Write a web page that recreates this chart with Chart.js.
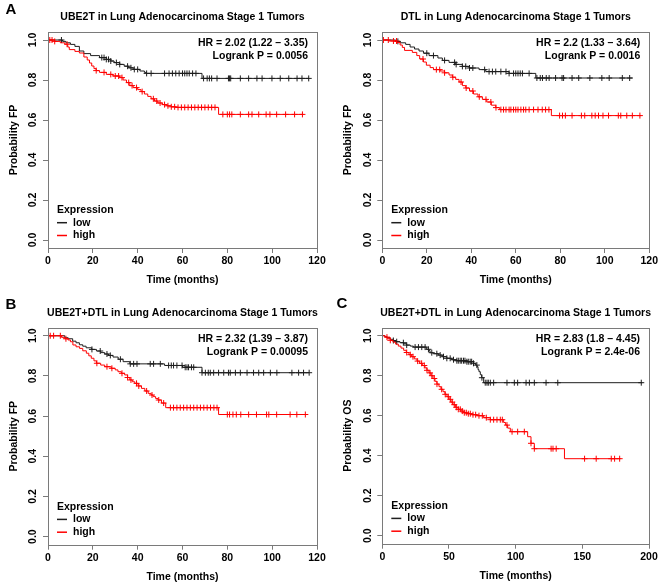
<!DOCTYPE html>
<html>
<head>
<meta charset="utf-8">
<script src="https://cdn.jsdelivr.net/npm/chart.js@4.4.1/dist/chart.umd.min.js"></script>
<style>
  body { margin: 0; background: #fff; }
  #fig { position: relative; width: 660px; height: 585px; overflow: hidden; }
  #fig canvas { position: absolute; }
</style>
</head>
<body>
<div id="fig">
  <canvas id="pA" width="330" height="290" style="left:0;top:0"></canvas>
  <canvas id="pD" width="330" height="290" style="left:330px;top:0"></canvas>
  <canvas id="pB" width="330" height="295" style="left:0;top:290px"></canvas>
  <canvas id="pC" width="330" height="295" style="left:330px;top:290px"></canvas>
</div>
<script>
// ---- data ----
const groupNames = ['low', 'high'];
const legendTitle = 'Expression';
const yTicks = [0, 0.2, 0.4, 0.6, 0.8, 1.0];
const xTicksFP = [0, 20, 40, 60, 80, 100, 120];
const xTicksOS = [0, 50, 100, 150, 200];

// A: UBE2T, FP
const aLowT = [0, 6.5, 8, 10, 12, 14, 16, 19, 23, 26, 28, 29.5, 32, 34, 36, 38, 41, 43, 44, 68.7, 116.3];
const aLowS = [1, 0.993, 0.986, 0.978, 0.968, 0.945, 0.932, 0.922, 0.912, 0.903, 0.895, 0.887, 0.878, 0.869, 0.861, 0.853, 0.845, 0.838, 0.833, 0.808, 0.808];
const aLowCens = [6, 24, 25, 26, 27, 28, 30.5, 32, 35.5, 37, 38.5, 40, 44, 46, 52, 54, 55.5, 57, 58.5, 60, 61, 62, 63, 64.5, 66, 69.4, 71, 72, 73, 75.4, 80.5, 81, 81.5, 85.8, 89.5, 93.2, 95.5, 99.9, 103.6, 107.4, 111.1, 113.3, 116.3];
const aHighT = [0, 3, 5.5, 7.5, 8.8, 9.5, 12, 14, 16, 17.5, 18.5, 19.5, 20.5, 21.5, 23, 26, 29, 32, 33.5, 35, 36.5, 38, 40, 41.5, 43, 44.5, 46, 47.5, 49, 51, 53, 55, 57, 76.1, 114];
const aHighS = [1, 0.993, 0.986, 0.979, 0.965, 0.952, 0.943, 0.935, 0.915, 0.9, 0.885, 0.87, 0.857, 0.847, 0.838, 0.828, 0.82, 0.812, 0.8, 0.787, 0.772, 0.762, 0.752, 0.742, 0.73, 0.718, 0.706, 0.695, 0.685, 0.677, 0.671, 0.666, 0.663, 0.628, 0.628];
const aHighCens = [0.8, 1.8, 3, 8.5, 21.5, 25, 28, 30, 31.5, 33, 36, 37.5, 39.5, 42, 47, 48.5, 50, 52, 53.5, 55, 56.5, 58, 59.5, 61, 62.5, 64, 65.5, 67, 68.5, 70, 71.5, 73, 74.5, 78, 80, 81, 82, 85.8, 89.5, 91, 94, 97.3, 99, 102, 106, 110, 113.5];

// DTL, FP
const dLowT = [0, 6, 8, 10.5, 12.5, 14.5, 16.5, 18.5, 21, 25, 27, 30, 33, 36, 39, 43.5, 46.5, 57, 69, 112.5];
const dLowS = [1, 0.993, 0.986, 0.978, 0.965, 0.955, 0.945, 0.934, 0.922, 0.91, 0.898, 0.888, 0.878, 0.868, 0.86, 0.852, 0.842, 0.833, 0.81, 0.81];
const dLowCens = [7, 20, 23, 28, 32.5, 33.2, 36, 37.5, 39.2, 40.7, 46, 48, 49.5, 51, 53.3, 55.6, 57, 59, 60, 61, 62, 63, 66, 69.5, 71, 72, 73.7, 75, 77.9, 80.8, 81.5, 85.3, 88.3, 93.3, 98.7, 102, 107.9, 111.2];
const dHighT = [0, 3, 6.5, 8, 9, 10, 13.5, 15.5, 16.8, 18.5, 19.8, 21.5, 23, 26, 28, 30, 31.5, 33, 34.5, 36, 37.5, 39.2, 41, 43, 45, 47, 49, 51, 52.8, 76, 116.4];
const dHighS = [1, 0.995, 0.987, 0.975, 0.963, 0.948, 0.938, 0.922, 0.905, 0.89, 0.874, 0.862, 0.852, 0.845, 0.836, 0.825, 0.814, 0.803, 0.79, 0.772, 0.76, 0.745, 0.73, 0.716, 0.703, 0.69, 0.674, 0.662, 0.652, 0.622, 0.622];
const dHighCens = [0.5, 2.7, 5, 6.4, 18.3, 24.3, 25.8, 28, 31.7, 35.4, 37.7, 40.7, 43.6, 46.6, 48.8, 51.1, 53.3, 54.5, 55.6, 57, 57.8, 59, 60, 61, 62.3, 63.5, 64.5, 66, 68, 70, 71.9, 73.4, 74.9, 79.7, 81, 82.3, 85.3, 89.5, 91, 94.2, 95.7, 97.2, 99.2, 101.7, 106.1, 107.2, 109.9, 112.4, 115.8];

// B: UBE2T+DTL, FP
const bLowT = [0, 7.5, 9, 11, 12.5, 14, 15.5, 17, 19.5, 21.6, 23.5, 25.3, 27, 29, 31.3, 33.5, 36.5, 52, 60, 68.7, 116.5];
const bLowS = [1, 0.99, 0.985, 0.973, 0.965, 0.955, 0.948, 0.94, 0.932, 0.924, 0.916, 0.909, 0.902, 0.894, 0.883, 0.871, 0.86, 0.852, 0.843, 0.816, 0.816];
const bLowCens = [19.6, 23.3, 26.3, 27.8, 32.3, 36.7, 38.2, 39.7, 45.6, 47.1, 50.1, 53.8, 55, 56, 57.5, 59.8, 61.2, 62, 62.7, 64, 65, 68.7, 70.2, 71.5, 72.4, 73.9, 76.1, 78.4, 80.5, 81.3, 83.6, 85.8, 88.8, 91.7, 94, 96.2, 99.2, 102.1, 108.8, 111.8, 114, 116.5];
const bHighT = [0, 6, 7.5, 8.9, 10, 11.1, 12.5, 14.1, 15.5, 17.1, 18.2, 19.3, 20.5, 21.6, 23.5, 25.3, 28.2, 30, 31.2, 32.7, 34.2, 35.5, 36.5, 37.6, 38.7, 40.2, 41.7, 43.2, 44.7, 46, 46.9, 48, 49.1, 50.6, 52.5, 76.1, 114.8];
const bHighS = [1, 0.992, 0.985, 0.979, 0.97, 0.954, 0.945, 0.937, 0.925, 0.913, 0.9, 0.888, 0.875, 0.863, 0.854, 0.846, 0.838, 0.83, 0.821, 0.813, 0.805, 0.792, 0.78, 0.771, 0.763, 0.75, 0.738, 0.725, 0.713, 0.705, 0.697, 0.688, 0.68, 0.665, 0.642, 0.608, 0.608];
const bHighCens = [1, 2.5, 5.5, 8, 21.8, 26.3, 28.5, 33, 35.5, 37, 39.5, 40.5, 44, 46.4, 49.4, 51.6, 54.6, 56, 57.5, 59, 60.5, 62, 63.5, 65, 66.5, 68, 69.5, 71, 72.5, 74, 75.4, 80, 81, 82.5, 84, 86, 89.5, 93, 97.5, 98.5, 102, 108, 111, 114.8];

// C: UBE2T+DTL, OS
const cLowT = [0, 2, 3.3, 5.8, 8, 9.5, 13.3, 16, 18.3, 21, 23.3, 33.3, 35, 35.8, 38, 42, 45, 48.4, 52, 55.9, 63.4, 68.4, 70, 71, 71.8, 72.5, 73.5, 74.5, 76, 195];
const cLowS = [1, 0.995, 0.99, 0.982, 0.976, 0.97, 0.965, 0.96, 0.953, 0.948, 0.943, 0.932, 0.925, 0.915, 0.91, 0.903, 0.895, 0.887, 0.88, 0.875, 0.87, 0.862, 0.853, 0.845, 0.83, 0.82, 0.805, 0.79, 0.765, 0.765];
const cLowCens = [8.3, 10.8, 15.8, 18.3, 24.6, 27.1, 29.6, 32.1, 34.6, 37.1, 40.9, 43.4, 45.9, 48.4, 50.9, 53.4, 55.9, 57, 58.4, 59.5, 60.9, 62, 63.4, 64.5, 65.9, 67, 68.4, 70.9, 74.7, 77.2, 78.5, 79.5, 81, 83.5, 93.5, 99, 101.5, 107.8, 110.3, 114, 122.8, 131.6, 194.2];
const cHighT = [0, 2, 4, 6, 8, 10, 12, 14, 16, 18, 20, 22, 24, 26, 28, 30, 32, 33.5, 35, 36.5, 38, 39.5, 41, 42.5, 44, 45.5, 47, 48.5, 50, 51.5, 53, 55, 57, 59, 61, 63.5, 67, 71, 76, 81, 91, 92.5, 94, 96, 109, 111.5, 114, 136.6, 178.7];
const cHighS = [1, 0.993, 0.985, 0.977, 0.968, 0.958, 0.948, 0.938, 0.927, 0.916, 0.905, 0.895, 0.884, 0.873, 0.862, 0.851, 0.839, 0.827, 0.814, 0.8, 0.786, 0.772, 0.758, 0.745, 0.732, 0.72, 0.707, 0.695, 0.682, 0.668, 0.655, 0.642, 0.632, 0.623, 0.615, 0.61, 0.605, 0.6, 0.59, 0.58, 0.566, 0.553, 0.538, 0.52, 0.495, 0.462, 0.435, 0.385, 0.385];
const cHighCens = [3.5, 6, 18.3, 21, 23, 26.5, 29.5, 31.5, 33.5, 35.8, 37.2, 39, 41, 44.5, 47.2, 49.5, 51, 52.5, 54, 55.5, 57, 58.5, 60, 61.5, 63, 64.5, 66, 68, 70, 72.5, 75, 78, 81, 83.5, 86, 88.5, 90, 93.5, 97.3, 101.5, 106.5, 111.5, 114, 126.6, 128, 130.4, 151.7, 160.4, 171.7, 174.2, 178];

const FONT = '"Liberation Sans", Arial, sans-serif';
const LOW_COLOR = '#1e1e1e';
const HIGH_COLOR = '#ff0000';
const AXIS_COLOR = '#7a7a7a';
const TEXT_COLOR = '#000';

// value of a step curve at time t
function stepAt(times, surv, t) {
  let s = surv[0];
  for (let i = 0; i < times.length; i++) if (times[i] <= t) s = surv[i];
  return s;
}

/**
 * box, title, HR text, legend, panel letter (R survplot look)
 */
const rDecor = {
  id: 'rDecor',
  afterDraw(chart, args, o) {
    const { ctx, chartArea: a } = chart;
    ctx.save();
    ctx.strokeStyle = AXIS_COLOR;
    ctx.lineWidth = 1;
    ctx.strokeRect(Math.round(a.left) + 0.5, Math.round(a.top) + 0.5,
      Math.round(a.right) - Math.round(a.left), Math.round(a.bottom) - Math.round(a.top));

    ctx.fillStyle = TEXT_COLOR;
    ctx.font = `bold 10.5px ${FONT}`;
    ctx.textBaseline = 'middle';
    ctx.textAlign = 'center';
    ctx.fillText(o.title, (a.left + a.right) / 2, a.top - 15);

    ctx.textAlign = 'right';
    ctx.fillText(o.hr[0], a.right - 9, a.top + 11.5);
    ctx.fillText(o.hr[1], a.right - 9, a.top + 24);

    ctx.textAlign = 'left';
    ctx.fillText(legendTitle, a.left + 9, a.bottom - 37.5);
    [[groupNames[0], LOW_COLOR, 25.3], [groupNames[1], HIGH_COLOR, 12.5]].forEach(([name, col, dy]) => {
      ctx.strokeStyle = col;
      ctx.lineWidth = 1.5;
      ctx.beginPath();
      ctx.moveTo(a.left + 9, a.bottom - dy);
      ctx.lineTo(a.left + 19, a.bottom - dy);
      ctx.stroke();
      ctx.fillText(name, a.left + 25, a.bottom - dy);
    });

    ctx.font = `bold 15px ${FONT}`;
    ctx.textAlign = 'center';
    ctx.fillText(o.letter, o.letterPos[0], o.letterPos[1]);
    ctx.restore();
  },
};

function curve(times, surv) {
  return times.map((t, i) => ({ x: t, y: surv[i] }));
}
function marks(times, surv, cens) {
  return cens.map((t) => ({ x: t, y: stepAt(times, surv, t) }));
}

function createKMChart(canvasId, p) {
  const ctx = document.getElementById(canvasId)?.getContext('2d');
  if (!ctx) return null;
  const W = ctx.canvas.width, H = ctx.canvas.height;
  const tickFont = { family: FONT, size: 10.5, weight: 'bold' };

  const lineDs = (times, surv, color) => ({
    data: curve(times, surv), borderColor: color, borderWidth: 1,
    stepped: true, pointRadius: 0, fill: false,
  });
  const markDs = (times, surv, cens, color) => ({
    data: marks(times, surv, cens), showLine: false, pointStyle: 'cross',
    pointRadius: 3, pointBorderWidth: 1, borderColor: color, backgroundColor: color,
  });

  return new Chart(ctx, {
    type: 'line',
    data: {
      datasets: [
        markDs(p.high[0], p.high[1], p.high[2], HIGH_COLOR),
        lineDs(p.high[0], p.high[1], HIGH_COLOR),
        markDs(p.low[0], p.low[1], p.low[2], LOW_COLOR),
        lineDs(p.low[0], p.low[1], LOW_COLOR),
      ],
    },
    options: {
      responsive: false,
      animation: false,
      devicePixelRatio: 1,
      layout: { padding: { left: 0, bottom: 0, top: p.area.t, right: W - p.area.r } },
      plugins: {
        legend: { display: false },
        tooltip: { enabled: false },
        rDecor: { title: p.title, hr: p.hr, letter: p.letter, letterPos: p.letterPos },
      },
      scales: {
        x: {
          type: 'linear', min: 0, max: p.xMax,
          afterBuildTicks: (s) => { s.ticks = p.xTicks.map((v) => ({ value: v })); },
          afterFit: (s) => { s.height = H - p.area.b; },
          ticks: { color: TEXT_COLOR, font: tickFont, padding: 2, maxRotation: 0, autoSkip: false },
          grid: { display: true, drawOnChartArea: false, drawTicks: true, tickLength: 5, color: AXIS_COLOR },
          border: { display: false },
          title: {
            display: true, text: 'Time (months)', color: TEXT_COLOR, font: tickFont,
            padding: { top: 0, bottom: H - p.area.b - 32 - 6.3 },
          },
        },
        y: {
          type: 'linear', min: -0.04, max: 1.04,
          afterBuildTicks: (s) => { s.ticks = yTicks.map((v) => ({ value: v })); },
          afterFit: (s) => { s.width = p.area.l; },
          ticks: {
            color: TEXT_COLOR, font: tickFont, padding: 2.3, minRotation: 90, maxRotation: 90,
            crossAlign: 'center', autoSkip: false, callback: (v) => Number(v).toFixed(1),
          },
          grid: { display: true, drawOnChartArea: false, drawTicks: true, tickLength: 5, color: AXIS_COLOR },
          border: { display: false },
          title: {
            display: true, text: p.yTitle, color: TEXT_COLOR, font: tickFont,
            padding: { top: p.area.l - 34 - 6.3, bottom: 0 },
          },
        },
      },
    },
    plugins: [rDecor],
  });
}

createKMChart('pA', {
  area: { l: 48, r: 317, t: 32, b: 248 }, xMax: 120, xTicks: xTicksFP, yTitle: 'Probability FP',
  title: 'UBE2T in Lung Adenocarcinoma Stage 1 Tumors',
  hr: ['HR = 2.02 (1.22 \u2013 3.35)', 'Logrank P = 0.0056'], letter: 'A', letterPos: [11, 9.5],
  low: [aLowT, aLowS, aLowCens], high: [aHighT, aHighS, aHighCens],
});
createKMChart('pD', {
  area: { l: 52.3, r: 321, t: 32, b: 248 }, xMax: 120, xTicks: xTicksFP, yTitle: 'Probability FP',
  title: 'DTL in Lung Adenocarcinoma Stage 1 Tumors',
  hr: ['HR = 2.2 (1.33 \u2013 3.64)', 'Logrank P = 0.0016'], letter: '', letterPos: [0, 0],
  low: [dLowT, dLowS, dLowCens], high: [dHighT, dHighS, dHighCens],
});
createKMChart('pB', {
  area: { l: 48, r: 317, t: 37.7, b: 254.7 }, xMax: 120, xTicks: xTicksFP, yTitle: 'Probability FP',
  title: 'UBE2T+DTL in Lung Adenocarcinoma Stage 1 Tumors',
  hr: ['HR = 2.32 (1.39 \u2013 3.87)', 'Logrank P = 0.00095'], letter: 'B', letterPos: [11, 15],
  low: [bLowT, bLowS, bLowCens], high: [bHighT, bHighS, bHighCens],
});
createKMChart('pC', {
  area: { l: 52.3, r: 319, t: 37.7, b: 253.7 }, xMax: 200, xTicks: xTicksOS, yTitle: 'Probability OS',
  title: 'UBE2T+DTL in Lung Adenocarcinoma Stage 1 Tumors',
  hr: ['HR = 2.83 (1.8 \u2013 4.45)', 'Logrank P = 2.4e-06'], letter: 'C', letterPos: [12, 14],
  low: [cLowT, cLowS, cLowCens], high: [cHighT, cHighS, cHighCens],
});
</script>
</body>
</html>
